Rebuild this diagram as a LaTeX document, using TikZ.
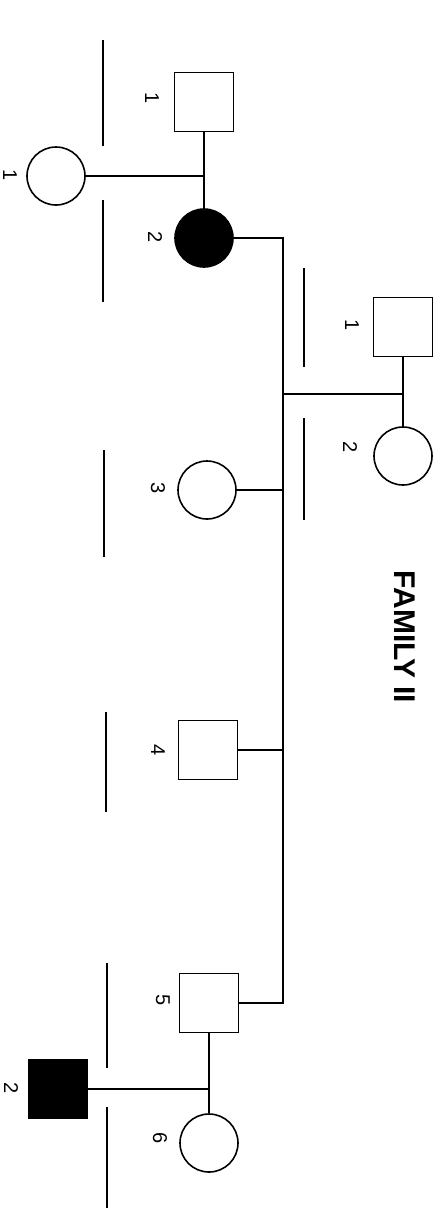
\documentclass[tikz,border=0pt]{standalone}
\usepackage{fontspec}
\setsansfont{Liberation Sans}
\usetikzlibrary{calc}
\tikzset{every node/.style={font=\sffamily},
  mal/.style={rectangle,draw,line width=1.8pt,minimum size=59pt,inner sep=0pt},
  fem/.style={circle,draw,line width=1.6pt,minimum size=58pt,inner sep=0pt},
  aff/.style={fill=black},
  num/.style={rotate=-90,font=\sffamily\fontsize{20}{20}\selectfont,inner sep=0pt},
  link/.style={line width=1.8pt},
  genbar/.style={line width=2.8pt}}

\begin{document}
\begin{tikzpicture}[x=1pt,y=-1pt]
\useasboundingbox[fill=white] (0,0) rectangle (445,1213);
% first couple and their daughter
\node[fem] (w1) at (56,176) {};\node[num] (lw1) at (10,175) {1};
\node[mal] (m1) at (204,102) {};\node[num] (lm1) at (152,98) {1};
\node[fem,aff] (p2) at (204,238) {};\node[num] (lp2) at (155,237) {2};
% spouse side
\node[mal] (h1) at (403,327) {};\node[num] (lh1) at (352,325) {1};
\node[fem] (h2) at (403,456) {};\node[num] (lh2) at (350,447) {2};
% sibship
\node[fem] (c3) at (207,490) {};\node[num] (lc3) at (158,488) {3};
\node[mal] (c4) at (208,750) {};\node[num] (lc4) at (158,750) {4};
\node[mal] (c5) at (209,1003) {};\node[num] (lc5) at (163,1000) {5};
\node[fem] (c6) at (209,1143) {};\node[num] (lc6) at (160,1138) {6};
\node[mal,aff] (f2) at (58,1089) {};\node[num] (lf2) at (11,1088) {2};
\node[rotate=-90,font=\sffamily\bfseries\fontsize{30}{30}\selectfont] (title) at (405,637) {FAMILY II};
\coordinate (t1) at (283,238);\coordinate (j2) at (283,394);
\draw[link] (w1.east) -- (w1.east -| m1.south);
\draw[link] (m1.south) -- (p2.north);
\draw[link] (p2.east) -- (t1) -- (t1 |- c5.east) -- (c5.east);
\draw[link] (j2) -- (j2 -| h1.south);\draw[link] (h1.south) -- (h2.north);
\draw[link] (c3.east) -- (c3.east -| t1);\draw[link] (c4.east) -- (c4.east -| t1);
\draw[link] (f2.east) -- (f2.east -| c5.south);\draw[link] (c5.south) -- (c6.north);
% bars
\draw[genbar] (103,40)--(103,146) (103,200)--(103,302) (104,450)--(104,557) (106,712)--(106,812);
\draw[genbar] (107,963)--(107,1068) (107,1107)--(107,1208);
\draw[genbar] (304,268)--(304,367) (304,418)--(304,520);
\end{tikzpicture}
\end{document}
